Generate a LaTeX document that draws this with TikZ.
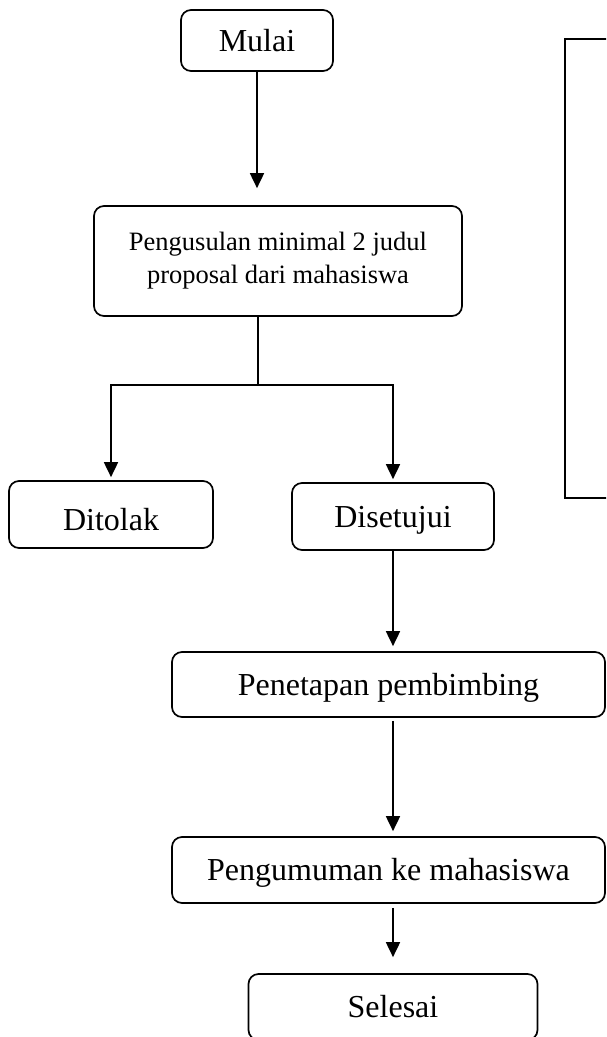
\documentclass[tikz,border=0pt]{standalone}
\usepackage{fontspec}
\setmainfont{Liberation Serif}
\usetikzlibrary{arrows.meta}
\begin{document}
\begin{tikzpicture}[x=1pt,y=-1pt,
  box/.style={draw, rounded corners=10pt, line width=1.7pt, inner sep=0pt,
    font=\fontsize{32}{37}\selectfont, text height=21pt, text depth=0pt},
  plain/.style={draw, line width=1.7pt, inner sep=0pt},
  ln/.style={line width=1.8pt},
  arr/.style={line width=1.8pt, -{Triangle[length=15pt,width=14pt]}}]
  \useasboundingbox (0,0) rectangle (606,1037);
  \clip (0,0) rectangle (606,1037);

  % process boxes
  \node[box, minimum width=152pt, minimum height=61pt] (mulai) at (257,40.5) {Mulai};
  \node[box, minimum width=368pt, minimum height=110pt, align=center,
    font=\fontsize{26.5}{33}\selectfont, text height=, text depth=] (usul) at (278,261)
    {Pengusulan minimal 2 judul\\proposal dari mahasiswa};
  \node[box, minimum width=204pt, minimum height=67pt, text height=31pt] (tolak) at (111,514.5) {Ditolak};
  \node[box, minimum width=202pt, minimum height=67pt] (setuju) at (393,516.5) {Disetujui};
  \node[box, minimum width=433pt, minimum height=65pt] (tetap) at (388.5,684.5) {Penetapan pembimbing};
  \node[box, minimum width=433pt, minimum height=66pt] (umum) at (388.5,870) {Pengumuman ke mahasiswa};
  \node[box, minimum width=289pt, minimum height=66pt] (selesai) at (393,1007) {Selesai};

  % empty frame on the right
  \node[plain, minimum width=60pt, minimum height=459pt] (frame) at (595,268.5) {};

  % connectors
  \draw[arr, shorten >=17pt] (mulai.south) -- (mulai.south |- usul.north);
  \coordinate (split) at (258,385);
  \draw[ln] (usul.south -| split) -- (split);
  \draw[arr, shorten >=3pt] (split) -| (tolak.north);
  \draw[arr, shorten >=3pt] (split) -| (setuju.north);
  \draw[arr, shorten >=5pt] (setuju.south) -- (setuju.south |- tetap.north);
  \draw[arr, shorten <=3pt, shorten >=5pt] (tetap.south -| setuju.south) -- (umum.north -| setuju.south);
  \draw[arr, shorten <=4pt, shorten >=16pt] (umum.south -| selesai.north) -- (selesai.north);
\end{tikzpicture}
\end{document}
